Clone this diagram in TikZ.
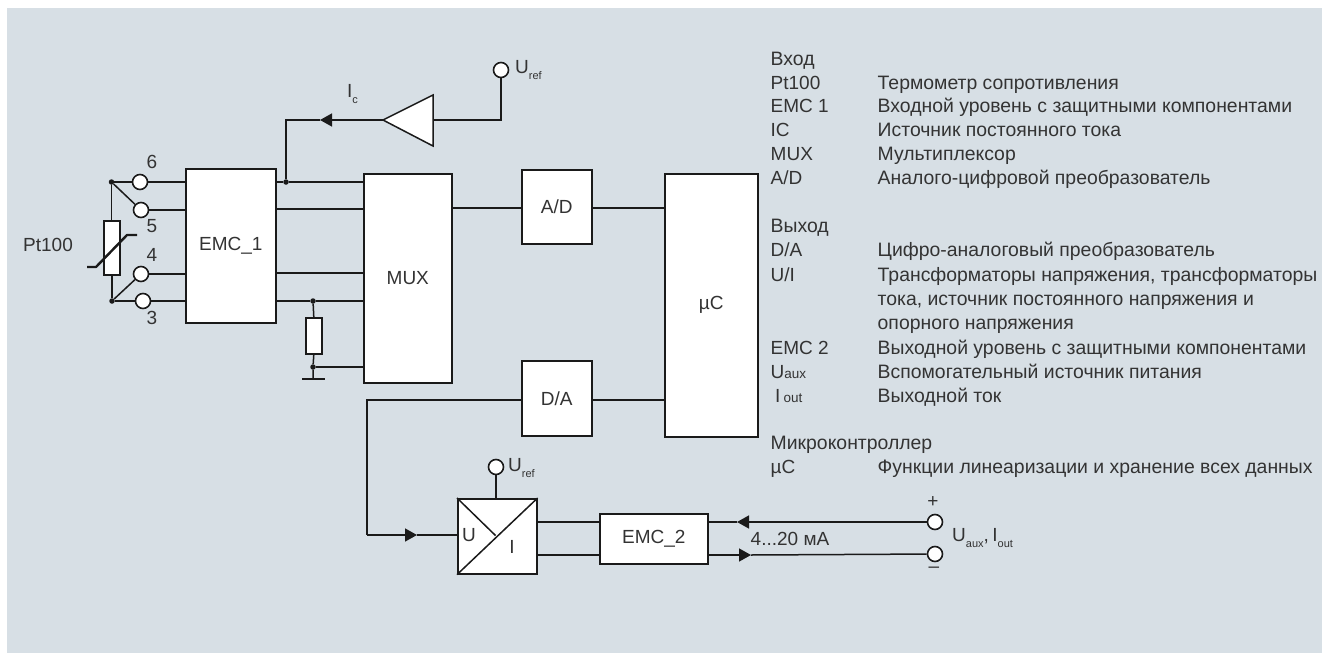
\documentclass[tikz,border=0pt]{standalone}
\usepackage{fontspec}
\setmainfont{Liberation Sans}
\usetikzlibrary{arrows.meta}
\definecolor{bgc}{HTML}{D7DFE5}
\definecolor{ink}{HTML}{1A1A1A}
\definecolor{txt}{HTML}{333333}
\newcommand{\sz}{\fontsize{19}{22}\selectfont}
\newcommand{\szc}{\fontsize{19.4}{22}\selectfont}
\newcommand{\subt}[1]{\raisebox{-6.5pt}{\fontsize{11}{12}\selectfont #1}}
\tikzset{
  wire/.style={draw=ink,line width=1.5pt},
  thickwire/.style={draw=ink,line width=2.4pt},
  blockbox/.style={draw=ink,line width=1.6pt,fill=white,inner sep=0pt,text=txt,font=\sz,anchor=north west},
  term/.style={circle,draw=ink,line width=1.6pt,fill=white,inner sep=0pt,minimum size=15pt},
  jdot/.style={circle,fill=ink,inner sep=0pt,minimum size=5.5pt},
  lab/.style={inner sep=0pt,text=txt,font=\sz},
  leg/.style={inner sep=0pt,text=txt,font=\sz,anchor=base west},
  legc/.style={inner sep=0pt,text=txt,font=\szc,anchor=base west},
  arr/.style={wire,-{Triangle[length=12pt,width=13pt]}},
}
\begin{document}
\begin{tikzpicture}[x=1pt,y=-1pt]
\useasboundingbox (0,0) rectangle (1322,653);
\fill[bgc] (7,8) rectangle (1322,653);
% blocks
\node[blockbox,minimum width=90pt,minimum height=154pt] (emcone) at (185,168) {EMC\_1};
\node[blockbox,minimum width=88pt,minimum height=209pt] (mux) at (363,173) {MUX};
\node[blockbox,minimum width=70pt,minimum height=74pt] (ad) at (521,169) {A/D};
\node[blockbox,minimum width=70pt,minimum height=75pt] (da) at (521,360) {D/A};
\node[blockbox,minimum width=93pt,minimum height=263pt] (uc) at (664,173) {µC};
\node[blockbox,minimum width=108pt,minimum height=50pt] (emctwo) at (599,513) {EMC\_2};
\node[blockbox,minimum width=79pt,minimum height=75pt] (ui) at (457,498) {};
\node[blockbox,minimum width=16pt,minimum height=54pt] (rpt) at (103,220) {};
\node[blockbox,minimum width=16pt,minimum height=36pt] (rshunt) at (305,317) {};
% terminals
\node[term] (t6) at (140,182) {};
\node[term] (t5) at (141,210) {};
\node[term] (t4) at (141,274) {};
\node[term] (t3) at (143,301) {};
\node[term] (urefa) at (501,70) {};
\node[term] (urefb) at (496,467) {};
\node[term] (tp) at (935,522) {};
\node[term] (tm) at (935,554) {};
% junctions
\node[jdot] (jt) at (111.5,182) {};
\node[jdot] (jb) at (112,301) {};
\node[jdot] (jc) at (286,182) {};
\node[jdot] (js) at (313,301) {};
\node[jdot] (jg) at (313,367) {};
% free points
\coordinate (gnd) at (313,379);
\coordinate (gndl) at (302,379);
\coordinate (gndr) at (325,379);
\coordinate (tria) at (383,120);
\coordinate (triu) at (433,95);
\coordinate (trid) at (433,146);
\coordinate (trim) at (433,120);
\coordinate (corn) at (501,120);
\coordinate (cornc) at (286,120);
\coordinate (tipc) at (320,120);
\coordinate (cornd) at (367,400);
\coordinate (cornu) at (367,535);
\coordinate (tipu) at (417,535);
\coordinate (tipp) at (737,522);
\coordinate (tipm) at (751,555);
\coordinate (sl1) at (87,267);
\coordinate (sl2) at (96,267);
\coordinate (sl3) at (127,235);
\coordinate (sl4) at (137,235);
% Pt100 wiring
\draw[wire] (jt) -- (t6);
\draw[wire] (jt) -- (t5);
\draw[wire] (jb) -- (t4);
\draw[wire] (jb) -- (t3);
\draw[wire] (jt) -- (jt |- rpt.north);
\draw[wire] (jb) -- (jb |- rpt.south);
\draw[thickwire,line join=round] (sl1) -- (sl2) -- (sl3) -- (sl4);
\draw[wire] (t6) -- (t6 -| emcone.west);
\draw[wire] (t5) -- (t5 -| emcone.west);
\draw[wire] (t4) -- (t4 -| emcone.west);
\draw[wire] (t3) -- (t3 -| emcone.west);
% EMC1 to MUX
\draw[wire] (emcone.east |- jc) -- (jc) -- (mux.west |- jc);
\draw[wire] (emcone.east |- 0,209) -- (mux.west |- 0,209);
\draw[wire] (emcone.east |- 0,273) -- (mux.west |- 0,273);
\draw[wire] (emcone.east |- js) -- (js) -- (mux.west |- js);
% shunt
\draw[wire] (js) -- (rshunt.north);
\draw[wire] (rshunt.south) -- (jg) -- (gnd);
\draw[wire] (jg) -- (mux.west |- jg);
\draw[thickwire] (gndl) -- (gndr);
% current source
\draw[wire,fill=white,line join=miter] (tria) -- (triu) -- (trid) -- cycle;
\draw[wire] (urefa) -- (corn) -- (trim);
\draw[arr] (tria) -- (tipc);
\draw[wire] (tipc) -- (cornc) -- (jc);
% signal path
\draw[wire] (mux.east |- 0,208) -- (ad.west |- 0,208);
\draw[wire] (ad.east |- 0,208) -- (uc.west |- 0,208);
\draw[wire] (da.east |- 0,400) -- (uc.west |- 0,400);
\draw[wire] (da.west |- cornd) -- (cornd) -- (cornu);
\draw[arr] (cornu) -- (tipu);
\draw[wire] (tipu) -- (ui.west |- tipu);
% U/I
\draw[wire] (ui.south west) -- (ui.north east);
\draw[wire] (ui.north west) -- (495.5,535.5);
\draw[wire] (urefb) -- (urefb |- ui.north);
\draw[wire] (ui.east |- 0,522) -- (emctwo.west |- 0,522);
\draw[wire] (ui.east |- 0,555) -- (emctwo.west |- 0,555);
\draw[arr] (tp) -- (tipp);
\draw[wire] (tipp) -- (emctwo.east |- tipp);
\draw[arr] (emctwo.east |- tipm) -- (tipm);
\draw[wire] (tipm) -- (tm);
% diagram labels
\node[lab] (l6) at (152,162) {6};
\node[lab] (l5) at (152,226) {5};
\node[lab] (l4) at (152,255) {4};
\node[lab] (l3) at (152,318) {3};
\node[lab] (lpt) at (48,245) {Pt100};
\node[lab] (lu) at (469,535) {U};
\node[lab] (li) at (512,547) {I};
\node[lab] (lma) at (790,539) {4...20 мА};
\node[lab] (lplus) at (933,502) {+};
\node[lab] (lminus) at (934,570) {–};
\node[leg] (lic) at (347,97) {\sz I\subt{c}};
\node[leg] (lra) at (515,73) {\sz U\subt{ref}};
\node[leg] (lrb) at (508,471) {\sz U\subt{ref}};
\node[leg] (lout) at (952,541) {\sz U\subt{aux},\kern3.5pt I\subt{out}};
% legend
\node[legc] (a0) at (770.5,65.5) {Вход};
\node[leg] (a1) at (770.5,89) {Pt100};
\node[legc] (b1) at (877.5,89) {Термометр сопротивления};
\node[leg] (a2) at (770.5,112.5) {EMC 1};
\node[legc] (b2) at (877.5,112.5) {Входной уровень с защитными компонентами};
\node[leg] (a3) at (770.5,136.5) {IC};
\node[legc] (b3) at (877.5,136.5) {Источник постоянного тока};
\node[leg] (a4) at (770.5,160.5) {MUX};
\node[legc] (b4) at (877.5,160.5) {Мультиплексор};
\node[leg] (a5) at (770.5,184.5) {A/D};
\node[legc] (b5) at (877.5,184.5) {Аналого-цифровой преобразователь};
\node[legc] (c0) at (770.5,232.5) {Выход};
\node[leg] (c1) at (770.5,256.5) {D/A};
\node[legc] (d1) at (877.5,256.5) {Цифро-аналоговый преобразователь};
\node[leg] (c2) at (770.5,281.5) {U/I};
\node[legc] (d2) at (877.5,281.5) {Трансформаторы напряжения, трансформаторы};
\node[legc] (d3) at (877.5,305.5) {тока, источник постоянного напряжения и};
\node[legc] (d4) at (877.5,329.5) {опорного напряжения};
\node[leg] (c5) at (770.5,354.5) {EMC 2};
\node[legc] (d5) at (877.5,354.5) {Выходной уровень с защитными компонентами};
\node[leg] (c6) at (770.5,378.5) {U{\fontsize{13.5}{14}\selectfont aux}};
\node[legc] (d6) at (877.5,378.5) {Вспомогательный источник питания};
\node[leg] (c7) at (775,402.5) {I\,{\fontsize{13.5}{14}\selectfont out}};
\node[legc] (d7) at (877.5,402.5) {Выходной ток};
\node[legc] (e0) at (770.5,449.5) {Микроконтроллер};
\node[leg] (e1) at (770.5,473.5) {µC};
\node[legc] (f1) at (877.5,473.5) {Функции линеаризации и хранение всех данных};
\end{tikzpicture}
\end{document}
